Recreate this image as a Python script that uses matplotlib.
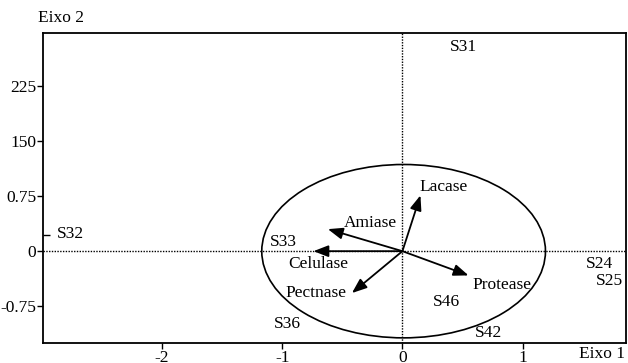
import matplotlib
matplotlib.use("Agg")
import matplotlib.pyplot as plt
from matplotlib.patches import Ellipse

# Variable vectors (enzymes)
enzymes = ["Lacase", "Amiase", "Celulase", "Pectnase", "Protease"]
enz_x = [0.15, -0.62, -0.74, -0.42, 0.55]
enz_y = [0.76, 0.30, 0.0, -0.57, -0.33]
enz_lx = [0.34, -0.27, -0.70, -0.72, 0.83]
enz_ly = [0.88, 0.38, -0.17, -0.57, -0.46]

# Samples (scores)
samples = ["S31", "S32", "S33", "S36", "S46", "S42", "S24", "S25"]
samp_x = [0.51, -2.76, -0.99, -0.96, 0.37, 0.72, 1.64, 1.72]
samp_y = [2.78, 0.24, 0.12, -0.99, -0.69, -1.11, -0.18, -0.41]

circle_r = 1.18

xticks = [-2, -1, 0, 1]
xticklabels = ["-2", "-1", "0", "1"]
yticks = [2.25, 1.5, 0.75, 0, -0.75]
yticklabels = ["225", "150", "0.75", "0", "-0.75"]

plt.rcParams['font.family'] = ['Liberation Serif', 'DejaVu Serif']
fs = 12.5

fig = plt.figure(figsize=(6.28, 3.63), dpi=100)
ax = fig.add_axes([43/628, 20/363, (626-43)/628, (343-33)/363])
ax.set_xlim(-2.99, 1.86)
ax.set_ylim(-1.25, 2.97)

ax.axhline(0, color='black', lw=1.0, ls=(0, (1, 1)), zorder=1)
ax.axvline(0, color='black', lw=1.0, ls=(0, (1, 1)), zorder=1)

ax.add_patch(Ellipse((0.01, 0.0), 2 * circle_r, 2 * circle_r, fill=False,
                     edgecolor='black', lw=1.2, zorder=2))

for name, x, y, lx, ly in zip(enzymes, enz_x, enz_y, enz_lx, enz_ly):
    ax.annotate("", xy=(x, y), xytext=(0, 0),
                arrowprops=dict(arrowstyle="-|>,head_length=0.9,head_width=0.35",
                                color='black', lw=1.3, shrinkA=0, shrinkB=0),
                zorder=3)
    ax.text(lx, ly, name, ha='center', va='center', fontsize=fs, zorder=4)

for name, x, y in zip(samples, samp_x, samp_y):
    ax.text(x, y, name, ha='center', va='center', fontsize=fs)

ax.set_xticks(xticks)
ax.set_xticklabels(xticklabels, fontsize=fs)
ax.set_yticks(yticks)
ax.set_yticklabels(yticklabels, fontsize=fs)
ax.set_yticks([0.22], minor=True)
ax.tick_params(axis='y', which='minor', direction='in', length=5, width=1)
ax.tick_params(axis='both', which='major', direction='out', length=4, width=1, pad=1)

for s in ax.spines.values():
    s.set_linewidth(1.3)

fig.text(38/628, 1 - 18/363, "Eixo 2", fontsize=fs, ha='left', va='center')
fig.text(625/628, 1 - 354/363, "Eixo 1", fontsize=fs, ha='right', va='center')

fig.savefig("out.png", dpi=100)
